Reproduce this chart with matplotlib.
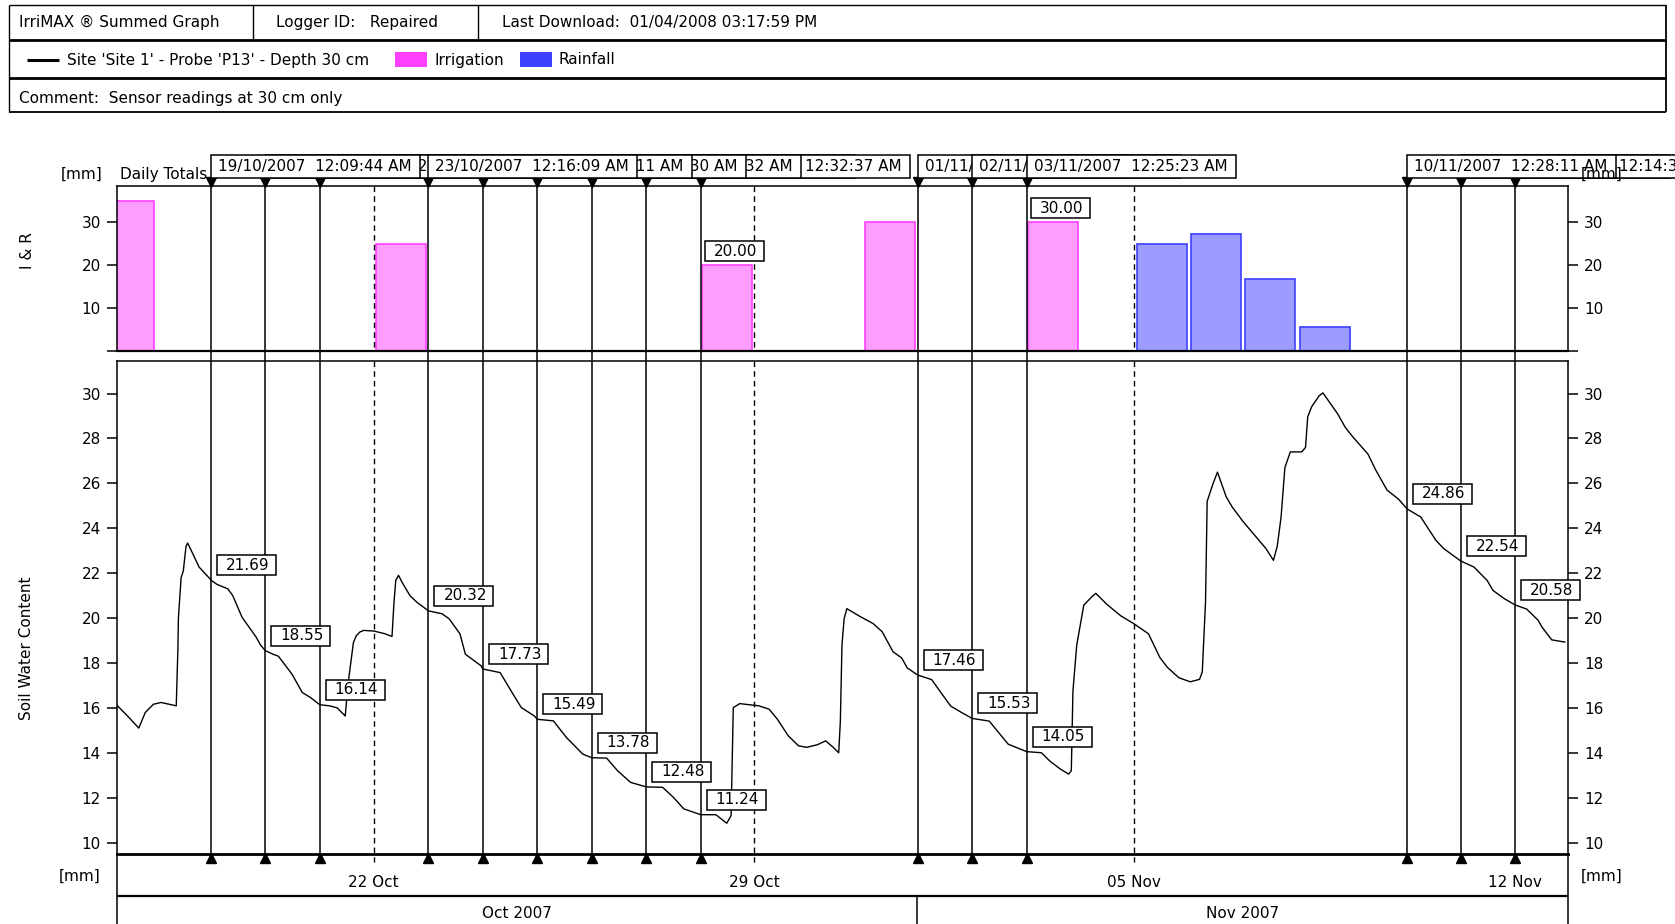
import matplotlib
matplotlib.use("Agg")
import matplotlib.pyplot as plt
import matplotlib.dates as mdates
import matplotlib.transforms as mtransforms
from matplotlib.patches import Rectangle
from matplotlib.lines import Line2D
import pandas as pd

plt.rcParams["font.family"] = ["DejaVu Sans"]
plt.rcParams["font.size"] = 11

# ---------------- data ----------------
# Soil water content at 30 cm (mm), logger readings
swc_times = [
    "10-17 06:58", "10-17 12:00", "10-17 16:19", "10-17 19:12", "10-17 22:48",
    "10-18 02:10", "10-18 05:46", "10-18 08:53", "10-18 09:36", "10-18 09:50",
    "10-18 11:02", "10-18 12:00", "10-18 13:12", "10-18 13:55", "10-18 15:50",
    "10-18 18:58", "10-18 23:46", "10-19 00:09", "10-19 02:53", "10-19 07:41",
    "10-19 09:50", "10-19 13:55", "10-19 17:02", "10-19 20:10", "10-19 22:05",
    "10-20 00:11", "10-20 03:36", "10-20 06:00", "10-20 12:00", "10-20 16:34",
    "10-20 20:10", "10-21 00:13", "10-21 04:34", "10-21 07:55", "10-21 11:31",
    "10-21 12:43", "10-21 15:07", "10-21 16:19", "10-21 18:00", "10-21 19:41",
    "10-22 00:14", "10-22 05:02", "10-22 08:10", "10-22 09:00", "10-22 09:50",
    "10-22 11:02", "10-22 12:58", "10-22 16:05", "10-22 19:12", "10-23 00:16",
    "10-23 06:14", "10-23 09:22", "10-23 14:10", "10-23 16:34", "10-23 23:31",
    "10-24 00:18", "10-24 07:55", "10-24 13:41", "10-24 17:17", "10-24 23:02",
    "10-25 00:20", "10-25 07:26", "10-25 13:12", "10-25 20:24", "10-26 00:22",
    "10-26 06:58", "10-26 11:46", "10-26 17:31", "10-27 00:26", "10-27 07:41",
    "10-27 12:29", "10-27 17:02", "10-28 00:32", "10-28 07:12", "10-28 09:36",
    "10-28 12:00", "10-28 13:55", "10-28 14:53", "10-28 17:46", "10-28 20:10",
    "10-29 02:10", "10-29 06:43", "10-29 10:19", "10-29 15:07", "10-29 19:41",
    "10-29 23:17", "10-30 04:05", "10-30 07:41", "10-30 11:02", "10-30 13:26",
    "10-30 14:10", "10-30 14:53", "10-30 15:50", "10-30 17:02", "10-30 23:02",
    "10-31 04:34", "10-31 08:38", "10-31 11:02", "10-31 13:26", "10-31 17:17",
    "10-31 19:41", "11-01 00:20", "11-01 06:29", "11-01 10:05", "11-01 14:53",
    "11-01 19:55", "11-02 00:22", "11-02 07:55", "11-02 11:31", "11-02 16:19",
    "11-03 00:25", "11-03 06:58", "11-03 10:34", "11-03 15:22", "11-03 18:58",
    "11-03 20:10", "11-03 20:53", "11-03 22:34", "11-04 01:41", "11-04 05:46",
    "11-04 06:58", "11-04 12:00", "11-04 18:00", "11-04 23:46", "11-05 06:14",
    "11-05 11:17", "11-05 14:38", "11-05 19:41", "11-06 00:43", "11-06 04:48",
    "11-06 06:00", "11-06 07:26", "11-06 08:10", "11-06 10:48", "11-06 12:43",
    "11-06 16:34", "11-06 19:12", "11-07 00:00", "11-07 06:43", "11-07 10:05",
    "11-07 13:26", "11-07 15:07", "11-07 16:48", "11-07 18:29", "11-07 20:53",
    "11-08 01:55", "11-08 03:36", "11-08 04:34", "11-08 06:14", "11-08 09:36",
    "11-08 11:17", "11-08 17:46", "11-08 21:07", "11-09 00:29", "11-09 07:12",
    "11-09 10:34", "11-09 15:36", "11-09 20:38", "11-10 00:28", "11-10 06:29",
    "11-10 13:12", "11-10 16:34", "11-11 00:10", "11-11 06:00", "11-11 11:46",
    "11-11 14:24", "11-11 19:26", "11-12 00:14", "11-12 05:17", "11-12 10:19",
    "11-12 12:00", "11-12 16:19", "11-12 22:05",
]
swc_values = [
    16.09, 15.57, 15.10, 15.79, 16.16,
    16.24, 16.16, 16.09, 18.60, 20.00,
    21.80, 22.10, 23.20, 23.34, 22.94,
    22.27, 21.75, 21.69, 21.50, 21.30,
    21.00, 20.04, 19.60, 19.15, 18.80,
    18.55, 18.39, 18.30, 17.50, 16.68,
    16.46, 16.14, 16.09, 16.00, 15.64,
    17.05, 18.90, 19.20, 19.38, 19.45,
    19.42, 19.30, 19.18, 20.64, 21.68,
    21.90, 21.53, 21.00, 20.70, 20.32,
    20.19, 19.97, 19.30, 18.39, 17.87,
    17.73, 17.57, 16.60, 16.01, 15.64,
    15.49, 15.42, 14.68, 13.94, 13.78,
    13.76, 13.20, 12.68, 12.48, 12.46,
    12.01, 11.50, 11.24, 11.24, 11.05,
    10.86, 11.20, 16.01, 16.19, 16.16,
    16.09, 15.94, 15.50, 14.76, 14.31,
    14.24, 14.36, 14.53, 14.24, 14.00,
    15.40, 18.80, 19.97, 20.42, 20.06,
    19.76, 19.39, 18.94, 18.50, 18.22,
    17.78, 17.46, 17.26, 16.75, 16.08,
    15.78, 15.53, 15.41, 14.97, 14.38,
    14.05, 14.00, 13.64, 13.27, 13.05,
    13.20, 16.75, 18.80, 20.58, 21.00,
    21.10, 20.60, 20.10, 19.75, 19.30,
    18.24, 17.80, 17.34, 17.16, 17.27,
    17.60, 20.70, 25.20, 26.00, 26.50,
    25.40, 24.95, 24.30, 23.50, 23.10,
    22.57, 23.20, 24.50, 26.70, 27.40,
    27.40, 27.60, 28.96, 29.40, 29.90,
    30.03, 29.10, 28.50, 28.07, 27.30,
    26.60, 25.70, 25.30, 24.86, 24.50,
    23.46, 23.10, 22.54, 22.27, 21.68,
    21.23, 20.86, 20.58, 20.40, 19.90,
    19.60, 19.03, 18.93,
]

# Daily totals (mm)
irrigation_days = ["2007-10-17", "2007-10-22", "2007-10-28", "2007-10-31", "2007-11-03"]
irrigation_mm = [35.0, 25.0, 20.0, 30.0, 30.0]
rain_days = ["2007-11-05", "2007-11-06", "2007-11-07", "2007-11-08"]
rain_mm = [25.0, 27.2, 16.8, 5.6]

# Cursor markers with the soil water reading at each
marker_times = [
    "2007-10-19 00:09:44", "2007-10-20 00:11:20", "2007-10-21 00:13:02",
    "2007-10-23 00:16:09", "2007-10-24 00:18:11", "2007-10-25 00:20:30",
    "2007-10-26 00:22:32", "2007-10-27 00:26:05", "2007-10-28 00:32:37",
    "2007-11-01 00:20:48", "2007-11-02 00:22:16", "2007-11-03 00:25:23",
    "2007-11-10 00:28:11", "2007-11-11 00:10:54", "2007-11-12 00:14:36",
]
marker_swc = [21.69, 18.55, 16.14, 20.32, 17.73, 15.49, 13.78, 12.48, 11.24,
              17.46, 15.53, 14.05, 24.86, 22.54, 20.58]
marker_layer = [15, 14, 13, 16, 12, 11, 10, 8, 9, 1, 2, 3, 6, 4, 5]

week_ticks = ["2007-10-22", "2007-10-29", "2007-11-05", "2007-11-12"]
week_labels = ["22 Oct", "29 Oct", "05 Nov", "12 Nov"]
month_edges = ["2007-10-17 06:43", "2007-11-01 00:00", "2007-11-12 23:31"]
month_labels = ["Oct 2007", "Nov 2007"]

header_title = "IrriMAX \u00ae Summed Graph"
header_logger = "Logger ID:   Repaired"
header_download = "Last Download:  01/04/2008 03:17:59 PM"
series_name = "Site 'Site 1' - Probe 'P13' - Depth 30 cm"
comment = "Comment:  Sensor readings at 30 cm only"

IRR_FACE, IRR_EDGE = "#ff9cff", "#ff40ff"
RAIN_FACE, RAIN_EDGE = "#9c9cff", "#4040ff"


def to_num(strings, prefix=""):
    return mdates.date2num(pd.to_datetime([prefix + s for s in strings]).to_pydatetime())


t_swc = to_num(swc_times, "2007-")
t_irr = to_num(irrigation_days)
t_rain = to_num(rain_days)
t_mark = to_num(marker_times)
t_week = to_num(week_ticks)
t_month = to_num(month_edges)
mark_stamps = pd.to_datetime(marker_times)

# ---------------- figure layout (pixel based) ----------------
W, H = 1675, 924
fig = plt.figure(figsize=(W / 100, H / 100), dpi=100)
fig.patch.set_facecolor("white")


def fy(py):
    return 1 - py / H


def px_line(x0, y0, x1, y1, lw=1.1):
    fig.add_artist(Line2D([x0 / W, x1 / W], [fy(y0), fy(y1)], transform=fig.transFigure,
                          color="black", lw=lw, solid_capstyle="butt"))


def px_text(x, y, s, **kw):
    kw.setdefault("va", "center")
    fig.text(x / W, fy(y), s, **kw)


L, R = 117, 1568
UP_T, UP_B = 186, 351
LO_T, LO_B = 361, 854

ax_up = fig.add_axes([L / W, fy(UP_B), (R - L) / W, (UP_B - UP_T) / H])
ax_lo = fig.add_axes([L / W, fy(LO_B), (R - L) / W, (LO_B - LO_T) / H])

xmin, xmax = t_month[0], t_month[-1]
for ax in (ax_up, ax_lo):
    ax.set_xlim(xmin, xmax)
    for sp in ax.spines.values():
        sp.set_linewidth(1.1)

# ---------------- header block ----------------
HX0, HX1 = 8.5, 1666
px_line(HX0, 5, HX1, 5, 1.0)
px_line(HX0, 39.5, HX1, 39.5, 2.0)
px_line(HX0, 78, HX1, 78, 2.0)
px_line(HX0, 112, HX1, 112, 1.3)
px_line(HX0, 5, HX0, 112, 1.0)
px_line(HX1, 5, HX1, 112, 1.3)
px_line(253, 5, 253, 39.5, 1.0)
px_line(477.5, 5, 477.5, 39.5, 1.0)
px_text(19, 22.0, header_title)
px_text(276, 22.0, header_logger)
px_text(502, 22.0, header_download)
px_line(27, 59.5, 59, 59.5, 2.2)
px_text(67, 60, series_name)
fig.add_artist(Rectangle((395 / W, fy(67)), 32 / W, 15 / H, transform=fig.transFigure,
                         facecolor=IRR_EDGE, edgecolor="none"))
px_text(435, 60, "Irrigation")
fig.add_artist(Rectangle((520 / W, fy(67)), 32 / W, 15 / H, transform=fig.transFigure,
                         facecolor=RAIN_EDGE, edgecolor="none"))
px_text(559, 60, "Rainfall")
px_text(19, 98, comment)

# ---------------- upper panel: daily totals ----------------
ax_up.bar(t_irr + 0.5, irrigation_mm, width=0.92, color=IRR_FACE, edgecolor=IRR_EDGE, lw=1.2)
ax_up.bar(t_rain + 0.5, rain_mm, width=0.92, color=RAIN_FACE, edgecolor=RAIN_EDGE, lw=1.2)
ax_up.set_ylim(0, 38.4)
ax_up.set_yticks([0, 10, 20, 30])
ax_up.set_yticklabels(["", "10", "20", "30"])
ax_up.set_xticks([])
ax_up.tick_params(axis="y", left=True, right=True, labelleft=True, labelright=True,
                  length=7.5, width=1.1, pad=4)
ax_up.spines["bottom"].set_linewidth(1.6)

# ---------------- lower panel: soil water ----------------
ax_lo.plot(t_swc, swc_values, color="black", lw=1.0, zorder=3)
ax_lo.set_ylim(9.49, 31.45)
ax_lo.set_yticks(range(10, 31, 2))
ax_lo.tick_params(axis="y", left=True, right=True, labelleft=True, labelright=True,
                  length=7.5, width=1.1, pad=4)
ax_lo.set_xticks(t_week)
ax_lo.set_xticklabels(week_labels)
ax_lo.tick_params(axis="x", length=0, pad=15)
ax_lo.spines["bottom"].set_linewidth(2.0)

blend = mtransforms.blended_transform_factory(ax_lo.transData, fig.transFigure)

# weekly grid lines through both panels
for t in t_week[:-1]:
    for y0, y1 in ((UP_T, UP_B), (LO_T, 862)):
        ax_lo.plot([t, t], [fy(y0), fy(y1)], transform=blend, clip_on=False,
                   color="black", lw=1.0, ls=(0, (4, 3)), zorder=2)

# date / month bands under the plot
px_line(L, LO_B, L, 924, 1.1)
px_line(R, LO_B, R, 924, 1.1)
px_line(L, 896, R, 896, 1.6)
ax_lo.plot([t_month[1], t_month[1]], [fy(896), fy(924)], transform=blend, clip_on=False,
           color="black", lw=1.1)
for a, b, lab in zip(t_month[:-1], t_month[1:], month_labels):
    ax_lo.text((a + b) / 2, fy(914), lab, transform=blend, ha="center", va="center")

# cursor markers
daily_totals = dict(zip([int(v) for v in t_irr], irrigation_mm))
daily_totals.update(zip([int(v) for v in t_rain], rain_mm))
BOX_W, BOX_H = 209, 23
for t, v, layer, stamp in zip(t_mark, marker_swc, marker_layer, mark_stamps):
    ax_lo.plot([t, t], [fy(178), fy(855)], transform=blend, clip_on=False,
               color="black", lw=1.1, zorder=4)
    ax_lo.plot([t], [fy(181.5)], marker="v", ms=6.5, color="black", transform=blend,
               clip_on=False, zorder=4)
    ax_lo.plot([t], [fy(857.5)], marker="^", ms=6.5, color="black", transform=blend,
               clip_on=False, zorder=4)
    # time stamp box at the top
    z = 20 + 2 * layer
    anchor = mtransforms.ScaledTranslation(t, fy(178), blend)
    ax_lo.add_patch(Rectangle((0, 0), BOX_W, BOX_H, transform=anchor, facecolor="white",
                              edgecolor="black", lw=1.1, clip_on=False, zorder=z))
    ax_lo.text(0, 0, stamp.strftime("%d/%m/%Y  %I:%M:%S %p"),
               transform=mtransforms.Affine2D().translate(7, BOX_H / 2) + anchor,
               ha="left", va="center", clip_on=False, zorder=z + 1)
    # value box next to the curve
    pt = mtransforms.ScaledTranslation(t, v, ax_lo.transData)
    ax_lo.add_patch(Rectangle((6, 5), 59, 20, transform=pt, facecolor="white",
                              edgecolor="black", lw=1.1, clip_on=False, zorder=10))
    ax_lo.text(0, 0, f"{v:.2f}", transform=mtransforms.Affine2D().translate(15, 15) + pt,
               ha="left", va="center", clip_on=False, zorder=11)
    # daily total box where the cursor meets a bar
    total = daily_totals.get(int(t))
    if total:
        pb = mtransforms.ScaledTranslation(t, total, ax_up.transData)
        ax_lo.add_patch(Rectangle((4.5, 4), 59, 20, transform=pb, facecolor="white",
                                  edgecolor="black", lw=1.1, clip_on=False, zorder=10))
        ax_lo.text(0, 0, f"{total:.2f}", transform=mtransforms.Affine2D().translate(13.5, 14) + pb,
                   ha="left", va="center", clip_on=False, zorder=11)

# axis titles and units
px_text(27, 251, "I & R", rotation=90, ha="center")
px_text(27, 648, "Soil Water Content", rotation=90, ha="center")
px_text(82, 174, "[mm]", ha="center")
px_text(80, 876, "[mm]", ha="center")
px_text(1602, 876, "[mm]", ha="center")
px_text(120, 174.5, "Daily Totals", ha="left")
ax_lo.text(1602 / W, fy(174), "[mm]", transform=fig.transFigure, ha="center", va="center",
           clip_on=False, zorder=100)

fig.savefig("out.png", dpi=100)
